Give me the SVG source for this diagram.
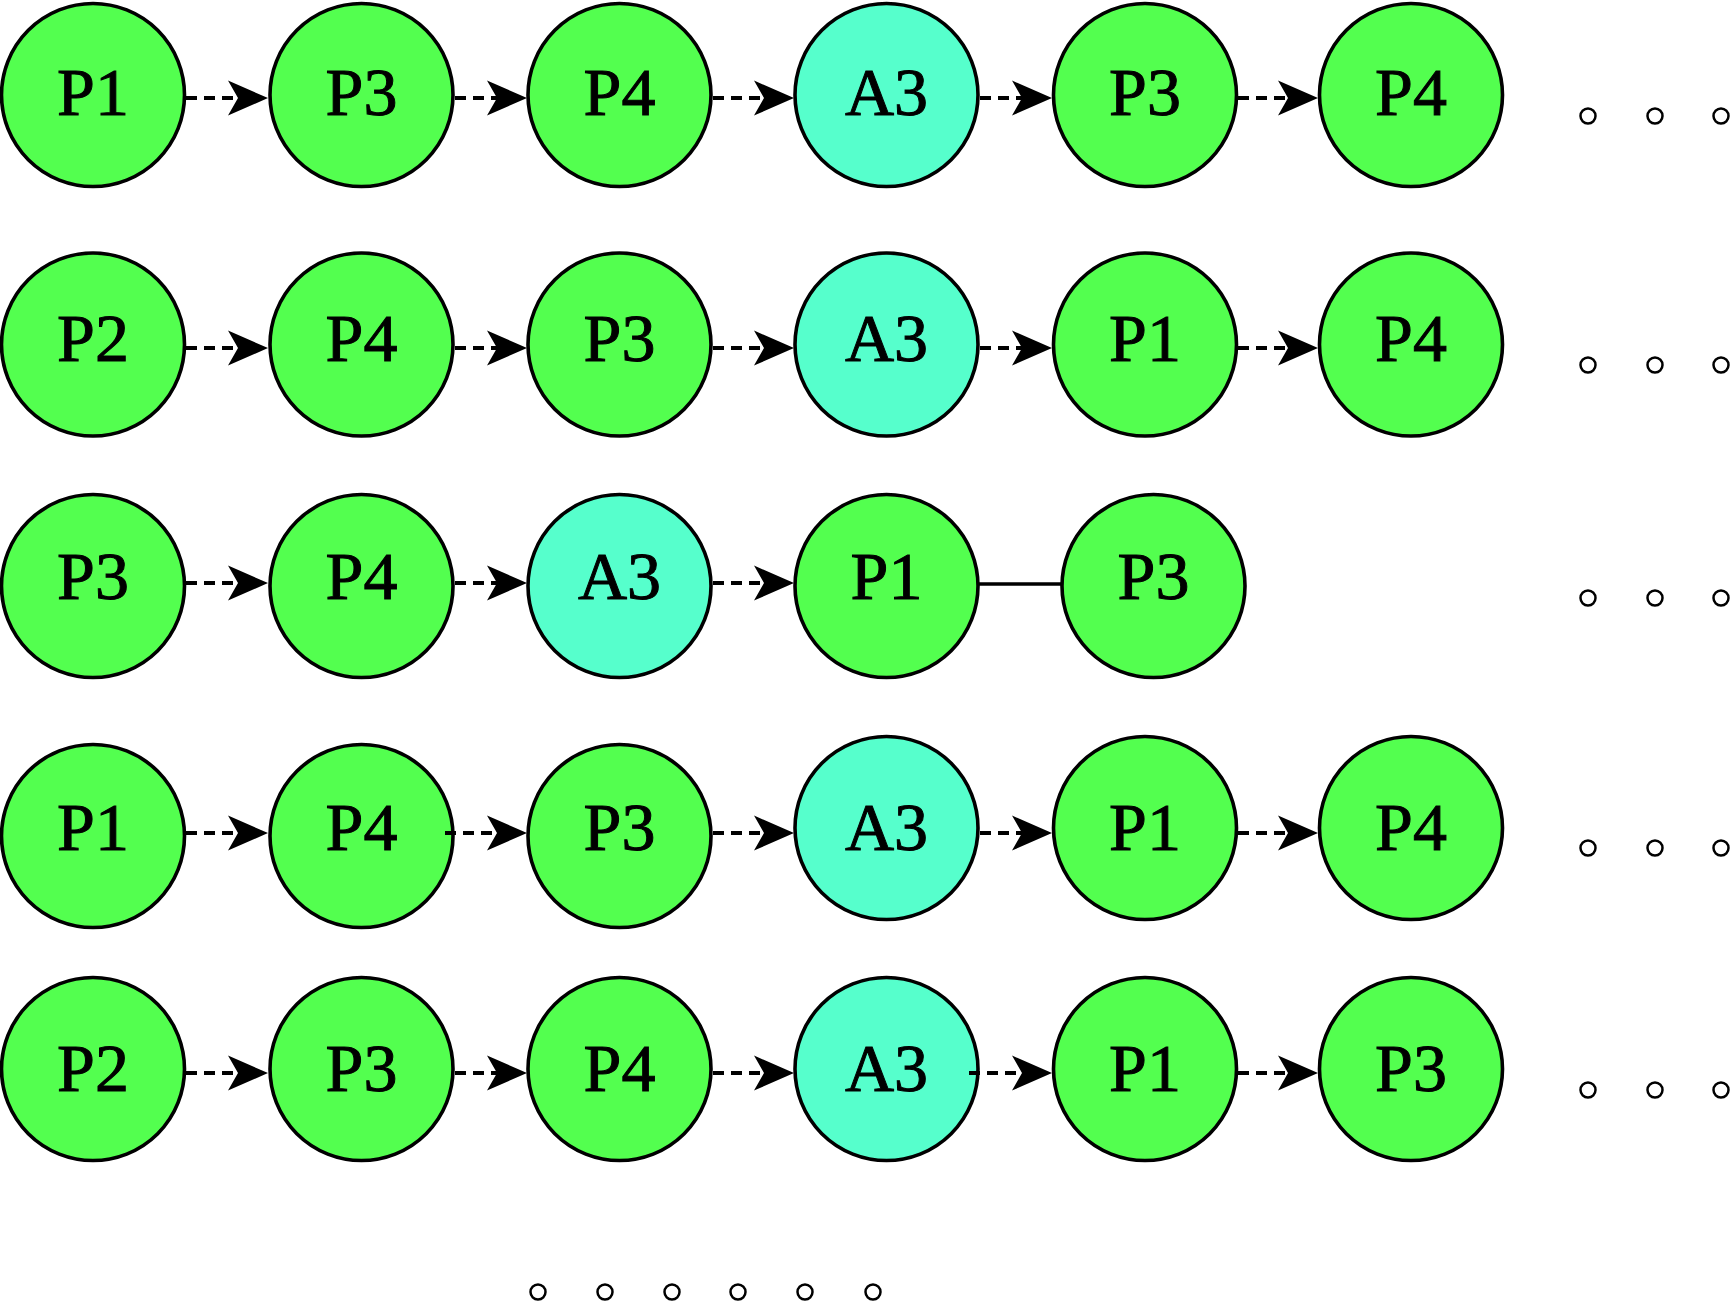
<svg xmlns="http://www.w3.org/2000/svg" width="1731" height="1302" viewBox="0 0 1731 1302">
<style>
.p circle{fill:#53ff4f;stroke:#000;stroke-width:3.6}
.a circle{fill:#56ffcc;stroke:#000;stroke-width:3.6}
text{font-family:"Liberation Serif","Times New Roman",serif;font-size:68px;fill:#000;stroke:#000;stroke-width:1;text-anchor:middle}
.d{stroke:#000;stroke-width:4;stroke-dasharray:11 7;fill:none}
.s{stroke:#000;stroke-width:3.6;fill:none}
.dot{fill:none;stroke:#000;stroke-width:2.5}
</style>
<defs>
<marker id="ah" markerUnits="userSpaceOnUse" markerWidth="44" markerHeight="40" refX="10" refY="18" orient="auto" overflow="visible">
<path d="M0,0.5 L40,18 L0,35.5 L10,18 Z" fill="#000"/>
</marker>
</defs>
<g id="connectors">
<line class="d" x1="186" y1="98" x2="238" y2="98" marker-end="url(#ah)"/>
<line class="d" x1="455" y1="98" x2="497" y2="98" marker-end="url(#ah)"/>
<line class="d" x1="713" y1="98" x2="764" y2="98" marker-end="url(#ah)"/>
<line class="d" x1="980" y1="98" x2="1022" y2="98" marker-end="url(#ah)"/>
<line class="d" x1="1238" y1="98" x2="1288" y2="98" marker-end="url(#ah)"/>
<line class="d" x1="186" y1="348" x2="238" y2="348" marker-end="url(#ah)"/>
<line class="d" x1="455" y1="348" x2="497" y2="348" marker-end="url(#ah)"/>
<line class="d" x1="713" y1="348" x2="764" y2="348" marker-end="url(#ah)"/>
<line class="d" x1="980" y1="348" x2="1022" y2="348" marker-end="url(#ah)"/>
<line class="d" x1="1238" y1="348" x2="1288" y2="348" marker-end="url(#ah)"/>
<line class="d" x1="186" y1="583" x2="238" y2="583" marker-end="url(#ah)"/>
<line class="d" x1="455" y1="583" x2="497" y2="583" marker-end="url(#ah)"/>
<line class="d" x1="713" y1="583" x2="764" y2="583" marker-end="url(#ah)"/>
<line class="s" x1="978" y1="584" x2="1061" y2="584"/>
<line class="d" x1="186" y1="833" x2="238" y2="833" marker-end="url(#ah)"/>
<line class="d" x1="445" y1="833" x2="497" y2="833" marker-end="url(#ah)"/>
<line class="d" x1="713" y1="833" x2="764" y2="833" marker-end="url(#ah)"/>
<line class="d" x1="980" y1="833" x2="1022" y2="833" marker-end="url(#ah)"/>
<line class="d" x1="1238" y1="833" x2="1288" y2="833" marker-end="url(#ah)"/>
<line class="d" x1="186" y1="1073" x2="238" y2="1073" marker-end="url(#ah)"/>
<line class="d" x1="455" y1="1073" x2="497" y2="1073" marker-end="url(#ah)"/>
<line class="d" x1="713" y1="1073" x2="764" y2="1073" marker-end="url(#ah)"/>
<line class="d" x1="969" y1="1073" x2="1022" y2="1073" marker-end="url(#ah)"/>
<line class="d" x1="1238" y1="1073" x2="1288" y2="1073" marker-end="url(#ah)"/>
</g>
<g id="r1n1" class="p"><circle cx="93" cy="95" r="91.5"/><text x="93" y="115">P1</text></g>
<g id="r1n2" class="p"><circle cx="361.5" cy="95" r="91.5"/><text x="361.5" y="115">P3</text></g>
<g id="r1n3" class="p"><circle cx="619.5" cy="95" r="91.5"/><text x="619.5" y="115">P4</text></g>
<g id="r1n4" class="a"><circle cx="886.5" cy="95" r="91.5"/><text x="886.5" y="115">A3</text></g>
<g id="r1n5" class="p"><circle cx="1145" cy="95" r="91.5"/><text x="1145" y="115">P3</text></g>
<g id="r1n6" class="p"><circle cx="1411" cy="95" r="91.5"/><text x="1411" y="115">P4</text></g>
<g id="r2n1" class="p"><circle cx="93" cy="344.5" r="91.5"/><text x="93" y="361">P2</text></g>
<g id="r2n2" class="p"><circle cx="361.5" cy="344.5" r="91.5"/><text x="361.5" y="361">P4</text></g>
<g id="r2n3" class="p"><circle cx="619.5" cy="344.5" r="91.5"/><text x="619.5" y="361">P3</text></g>
<g id="r2n4" class="a"><circle cx="886.5" cy="344.5" r="91.5"/><text x="886.5" y="361">A3</text></g>
<g id="r2n5" class="p"><circle cx="1145" cy="344.5" r="91.5"/><text x="1145" y="361">P1</text></g>
<g id="r2n6" class="p"><circle cx="1411" cy="344.5" r="91.5"/><text x="1411" y="361">P4</text></g>
<g id="r3n1" class="p"><circle cx="93" cy="586" r="91.5"/><text x="93" y="599">P3</text></g>
<g id="r3n2" class="p"><circle cx="361.5" cy="586" r="91.5"/><text x="361.5" y="599">P4</text></g>
<g id="r3n3" class="a"><circle cx="619.5" cy="586" r="91.5"/><text x="619.5" y="599">A3</text></g>
<g id="r3n4" class="p"><circle cx="886.5" cy="586" r="91.5"/><text x="886.5" y="599">P1</text></g>
<g id="r3n5" class="p"><circle cx="1153.5" cy="586" r="91.5"/><text x="1153.5" y="599">P3</text></g>
<g id="r4n1" class="p"><circle cx="93" cy="836" r="91.5"/><text x="93" y="850">P1</text></g>
<g id="r4n2" class="p"><circle cx="361.5" cy="836" r="91.5"/><text x="361.5" y="850">P4</text></g>
<g id="r4n3" class="p"><circle cx="619.5" cy="836" r="91.5"/><text x="619.5" y="850">P3</text></g>
<g id="r4n4" class="a"><circle cx="886.5" cy="828" r="91.5"/><text x="886.5" y="850">A3</text></g>
<g id="r4n5" class="p"><circle cx="1145" cy="828" r="91.5"/><text x="1145" y="850">P1</text></g>
<g id="r4n6" class="p"><circle cx="1411" cy="828" r="91.5"/><text x="1411" y="850">P4</text></g>
<g id="r5n1" class="p"><circle cx="93" cy="1069" r="91.5"/><text x="93" y="1091">P2</text></g>
<g id="r5n2" class="p"><circle cx="361.5" cy="1069" r="91.5"/><text x="361.5" y="1091">P3</text></g>
<g id="r5n3" class="p"><circle cx="619.5" cy="1069" r="91.5"/><text x="619.5" y="1091">P4</text></g>
<g id="r5n4" class="a"><circle cx="886.5" cy="1069" r="91.5"/><text x="886.5" y="1091">A3</text></g>
<g id="r5n5" class="p"><circle cx="1145" cy="1069" r="91.5"/><text x="1145" y="1091">P1</text></g>
<g id="r5n6" class="p"><circle cx="1411" cy="1069" r="91.5"/><text x="1411" y="1091">P3</text></g>
<g id="r4overlay"><line class="d" x1="445" y1="833" x2="455" y2="833" stroke-dasharray="none"/></g>
<g id="r5overlay"><line class="d" x1="969" y1="1073" x2="980" y2="1073" stroke-dasharray="none"/></g>
<g id="ellipsis-dots">
<circle class="dot" cx="1588" cy="116" r="7.5"/><circle class="dot" cx="1655" cy="116" r="7.5"/><circle class="dot" cx="1721" cy="116" r="7.5"/>
<circle class="dot" cx="1588" cy="365" r="7.5"/><circle class="dot" cx="1655" cy="365" r="7.5"/><circle class="dot" cx="1721" cy="365" r="7.5"/>
<circle class="dot" cx="1588" cy="598" r="7.5"/><circle class="dot" cx="1655" cy="598" r="7.5"/><circle class="dot" cx="1721" cy="598" r="7.5"/>
<circle class="dot" cx="1588" cy="848" r="7.5"/><circle class="dot" cx="1655" cy="848" r="7.5"/><circle class="dot" cx="1721" cy="848" r="7.5"/>
<circle class="dot" cx="1588" cy="1090" r="7.5"/><circle class="dot" cx="1655" cy="1090" r="7.5"/><circle class="dot" cx="1721" cy="1090" r="7.5"/>
<circle class="dot" cx="538" cy="1292" r="7.5"/><circle class="dot" cx="605" cy="1292" r="7.5"/><circle class="dot" cx="672" cy="1292" r="7.5"/>
<circle class="dot" cx="738" cy="1292" r="7.5"/><circle class="dot" cx="805" cy="1292" r="7.5"/><circle class="dot" cx="873" cy="1292" r="7.5"/>
</g>
</svg>
